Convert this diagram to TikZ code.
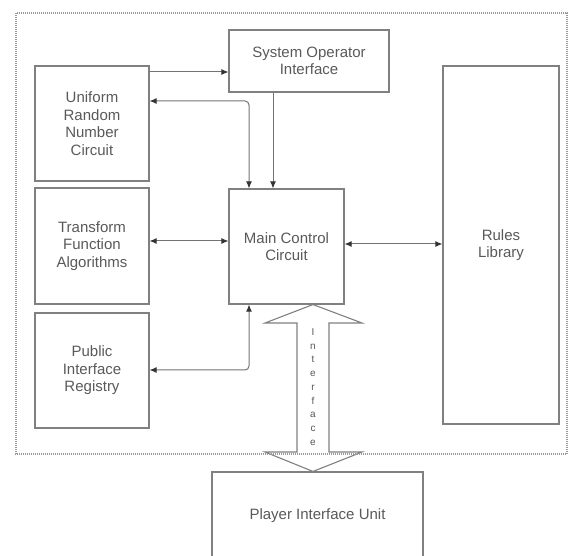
\documentclass[tikz,border=0pt]{standalone}
\usepackage{fontspec}
\setmainfont{Liberation Sans}
\usetikzlibrary{arrows.meta,calc}
\begin{document}
\begin{tikzpicture}[x=1pt,y=-1pt,
  box/.style={draw=black!50,line width=1.1pt,inner sep=0pt,text=black!65,align=center,
    font=\fontsize{15}{17.5}\selectfont},
  conn/.style={draw=black!55,line width=1pt,rounded corners=4pt},
  tipend/.style={-{Latex[length=7pt,width=6pt,black!80]}},
  tipboth/.style={{Latex[length=7pt,width=6pt,black!80]}-{Latex[length=7pt,width=6pt,black!80]}},
  frame/.style={draw=black!40,line width=1.3pt,dash pattern=on 1pt off 1pt},
  bigarrow/.style={draw=black!50,line width=1.1pt,fill=white,line join=miter}
]
\useasboundingbox (0,0) rectangle (571,556);

\node[box,minimum width=160pt,minimum height=62pt] (soi) at (309,61) {System Operator\\Interface};
\node[box,minimum width=114pt,minimum height=115pt] (urn) at (92,123.5) {Uniform\\Random\\Number\\Circuit};
\node[box,minimum width=114pt,minimum height=116pt] (tfa) at (92,246) {Transform\\Function\\Algorithms};
\node[box,minimum width=114pt,minimum height=115pt] (pir) at (92,370.5) {Public\\Interface\\Registry};
\node[box,minimum width=115pt,minimum height=115pt] (main) at (286.5,246.5) {Main Control\\Circuit};
\node[box,minimum width=116pt,minimum height=358pt] (rules) at (501,245) {Rules\\Library};
\node[box,minimum width=211pt,minimum height=88pt] (player) at (317.5,516) {Player Interface Unit};

\draw[conn,tipend] (urn.east |- 0,72) -- (soi.west |- 0,72);
\draw[conn,tipboth] (main.north -| 249,0) -- (249,101) -- (urn.east |- 0,101);
\draw[conn,tipend] (soi.south -| 273,0) -- (main.north -| 273,0);
\draw[conn,tipboth] (tfa.east |- 0,241) -- (main.west |- 0,241);
\draw[conn,tipboth] (main.south -| 249,0) -- (249,370) -- (pir.east |- 0,370);
\draw[conn,tipboth] (main.east |- 0,244) -- (rules.west |- 0,244);

\coordinate (at) at (main.south -| 313,0);
\coordinate (ab) at (player.north -| 313,0);
\draw[bigarrow] (at) -- (362,323) -- (329,323) -- (329,452) -- (362,452) -- (ab)
  -- (265,452) -- (297,452) -- (297,323) -- (265,323) -- cycle;
\node[inner sep=0pt,align=center,text=black!65,font=\fontsize{10}{13.75}\selectfont] (ilabel) at (313,387)
  {I\\n\\t\\e\\r\\f\\a\\c\\e};

\draw[frame] (16,13) rectangle (567,454);
\end{tikzpicture}
\end{document}
